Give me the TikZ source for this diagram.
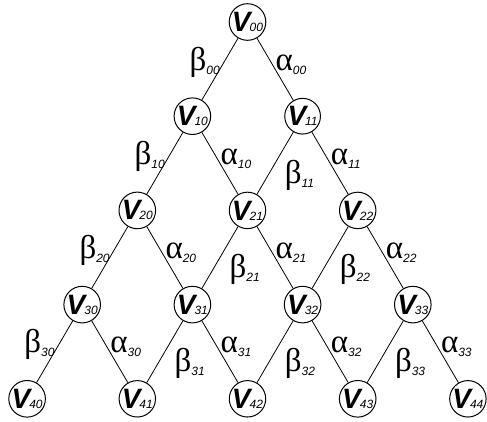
\documentclass[tikz,border=0pt]{standalone}
\usepackage{fontspec}
\setmainfont{Liberation Sans}
\newfontfamily\greekfont{Liberation Serif}
\newfontfamily\subfont{Liberation Sans}
\usetikzlibrary{calc}
\newcommand{\vsub}[1]{{\fontsize{12}{12}\selectfont\mdseries\itshape #1}}
\newcommand{\gsub}[1]{\raisebox{-4pt}{\subfont\fontsize{12}{12}\selectfont\itshape #1}}
\tikzset{
  vnode/.style={circle, draw, line width=1pt, minimum size=32pt, inner sep=0pt,
    font=\fontsize{28}{28}\selectfont\bfseries\itshape},
  edgeline/.style={line width=0.8pt},
  glabel/.style={anchor=base west, inner sep=0pt, font=\greekfont\fontsize{33}{33}\selectfont}
}
\begin{document}
\begin{tikzpicture}[x=1pt,y=-1pt]
\useasboundingbox (0,0) rectangle (487,421);
\foreach \r in {0,...,4}{
  \foreach \c in {0,...,\r}{
    \node[vnode] (v\r\c) at ({247.5+(2*\c-\r)*55.1},{22+\r*94.2}) {V\kern-1pt\vsub{\r\c}};
  }
}
\foreach \r in {0,...,3}{
  \foreach \c in {0,...,\r}{
    \pgfmathtruncatemacro\rn{\r+1}
    \pgfmathtruncatemacro\cn{\c+1}
    \draw[edgeline] (v\r\c) -- (v\rn\c);
    \draw[edgeline] (v\r\c) -- (v\rn\cn);
    \node[glabel] (a\r\c) at ($(v\r\c)+(28,48)$) {α\gsub{\r\c}};
    \ifnum\c=0
      \node[glabel] (b\r\c) at ($(v\r\c)+(-58,48)$) {β\gsub{\r\c}};
    \else
      \node[glabel] (b\r\c) at ($(v\r\c)+(-18,67)$) {β\gsub{\r\c}};
    \fi
  }
}
\end{tikzpicture}
\end{document}
